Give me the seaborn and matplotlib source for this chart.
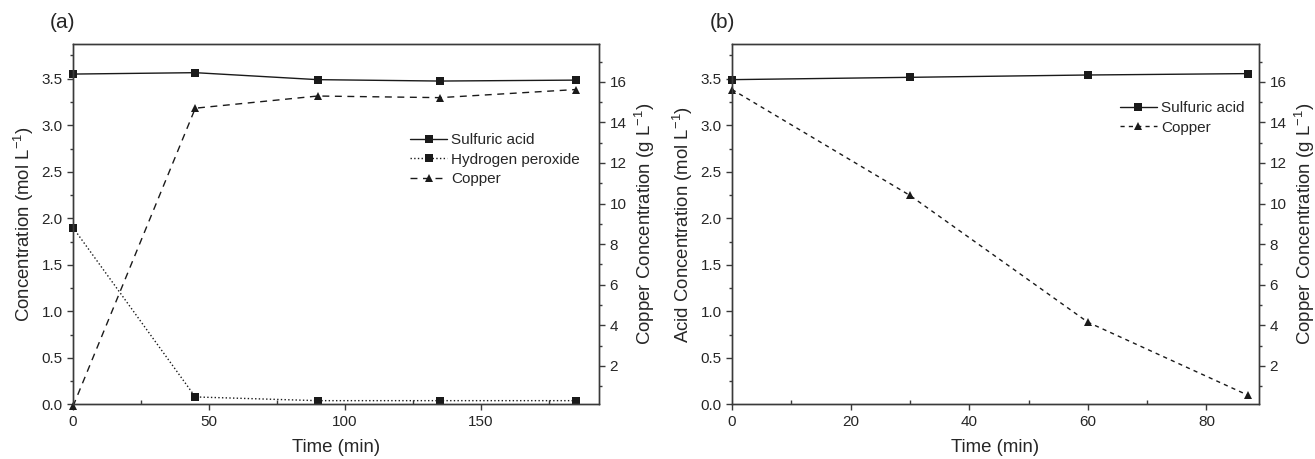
import matplotlib
matplotlib.use("Agg")
import matplotlib.pyplot as plt
import seaborn as sns
from matplotlib.ticker import MultipleLocator

# panel (a): leaching
time_a = [0, 45, 90, 135, 185]
acid_a = [3.55, 3.565, 3.49, 3.475, 3.485]
peroxide_a = [1.90, 0.08, 0.04, 0.04, 0.04]
copper_a = [0.0, 14.7, 15.3, 15.22, 15.62]

# panel (b): electrowinning
time_b = [0, 30, 60, 87]
acid_b = [3.49, 3.515, 3.54, 3.555]
copper_b = [15.62, 10.4, 4.15, 0.55]

sns.set_style("ticks")
plt.rcParams["font.family"] = ["Liberation Sans", "DejaVu Sans"]
plt.rcParams["mathtext.fontset"] = "custom"
plt.rcParams["mathtext.rm"] = "Liberation Sans"
plt.rcParams["mathtext.it"] = "Liberation Sans:italic"

LINE = "#1a1a1a"
SPINE = "#3a3a3a"
TICK_FS = 11
LABEL_FS = 13.4

fig = plt.figure(figsize=(13.15, 4.59), dpi=100)
ax_a = fig.add_axes([0.0555, 0.119, 0.4, 0.7845])
ax_b = fig.add_axes([0.5567, 0.119, 0.4007, 0.7845])


def style_axes(ax, ax2, xmax, xmajor, xminor):
    ax.set_xlim(0, xmax)
    ax.set_ylim(0, 3.87)
    ax2.set_ylim(0.1, 17.85)
    ax.xaxis.set_major_locator(MultipleLocator(xmajor))
    ax.xaxis.set_minor_locator(MultipleLocator(xminor))
    ax.yaxis.set_major_locator(MultipleLocator(0.5))
    ax.yaxis.set_minor_locator(MultipleLocator(0.25))
    ax2.yaxis.set_major_locator(MultipleLocator(2))
    ax2.yaxis.set_minor_locator(MultipleLocator(1))
    ax.tick_params(axis="x", which="major", direction="out", length=4, width=1,
                   labelsize=TICK_FS, color=SPINE, bottom=True, top=False)
    ax.tick_params(axis="x", which="minor", direction="in", length=3, width=1,
                   color=SPINE, bottom=True, top=False)
    ax.tick_params(axis="y", which="major", direction="out", length=4, width=1,
                   labelsize=TICK_FS, color=SPINE, left=True, right=False)
    ax.tick_params(axis="y", which="minor", direction="out", length=2.5, width=1,
                   color=SPINE, left=True, right=False)
    ax2.tick_params(axis="y", which="major", direction="out", length=4, width=1,
                    labelsize=TICK_FS, color=SPINE)
    ax2.tick_params(axis="y", which="minor", direction="out", length=2.5, width=1,
                    color=SPINE)
    ax.set_yticks([0, 0.5, 1.0, 1.5, 2.0, 2.5, 3.0, 3.5])
    ax.set_yticklabels(["0.0", "0.5", "1.0", "1.5", "2.0", "2.5", "3.0", "3.5"])
    for a in (ax, ax2):
        for sp in a.spines.values():
            sp.set_visible(True)
            sp.set_color(SPINE)
            sp.set_linewidth(1)
    ax.set_xlabel("Time (min)", fontsize=LABEL_FS, labelpad=7)
    ax2.set_ylabel("Copper Concentration (g L$^{-1}$)", fontsize=LABEL_FS, labelpad=5)


# ---- (a) ----
ax_a2 = ax_a.twinx()
sns.lineplot(x=time_a, y=acid_a, ax=ax_a, color=LINE, linestyle="-", marker="s",
             markersize=5.5, markeredgewidth=0, linewidth=1, label="Sulfuric acid",
             legend=False, clip_on=False)
sns.lineplot(x=time_a, y=peroxide_a, ax=ax_a, color=LINE, linestyle=":", marker="s",
             markersize=5.5, markeredgewidth=0, linewidth=1, label="Hydrogen peroxide",
             legend=False, clip_on=False)
sns.lineplot(x=time_a, y=copper_a, ax=ax_a2, color=LINE, linestyle=(0, (5, 4)),
             marker="^", markersize=6, markeredgewidth=0, linewidth=1,
             label="Copper", legend=False, clip_on=False)
style_axes(ax_a, ax_a2, 193.5, 50, 25)
ax_a.set_ylabel("Concentration (mol L$^{-1}$)", fontsize=LABEL_FS, labelpad=4)
h1, l1 = ax_a.get_legend_handles_labels()
h2, l2 = ax_a2.get_legend_handles_labels()
ax_a.legend(h1 + h2, l1 + l2, loc="center left", bbox_to_anchor=(0.615, 0.68),
            frameon=False, fontsize=11, numpoints=1, handlelength=2.4,
            handletextpad=0.3, labelspacing=0.35)

# ---- (b) ----
ax_b2 = ax_b.twinx()
sns.lineplot(x=time_b, y=acid_b, ax=ax_b, color=LINE, linestyle="-", marker="s",
             markersize=5.5, markeredgewidth=0, linewidth=1, label="Sulfuric acid",
             legend=False, clip_on=False)
sns.lineplot(x=time_b, y=copper_b, ax=ax_b2, color=LINE, linestyle=(0, (3, 3)),
             marker="^", markersize=6, markeredgewidth=0, linewidth=1,
             label="Copper", legend=False, clip_on=False)
style_axes(ax_b, ax_b2, 88.85, 20, 10)
ax_b.set_ylabel("Acid Concentration (mol L$^{-1}$)", fontsize=LABEL_FS, labelpad=4)
h1, l1 = ax_b.get_legend_handles_labels()
h2, l2 = ax_b2.get_legend_handles_labels()
ax_b.legend(h1 + h2, l1 + l2, loc="center left", bbox_to_anchor=(0.71, 0.795),
            frameon=False, fontsize=11, numpoints=1, handlelength=2.4,
            handletextpad=0.3, labelspacing=0.35)

fig.text(0.038, 0.95, "(a)", fontsize=15, va="center", ha="left")
fig.text(0.540, 0.95, "(b)", fontsize=15, va="center", ha="left")

fig.savefig("out.png", dpi=100)
